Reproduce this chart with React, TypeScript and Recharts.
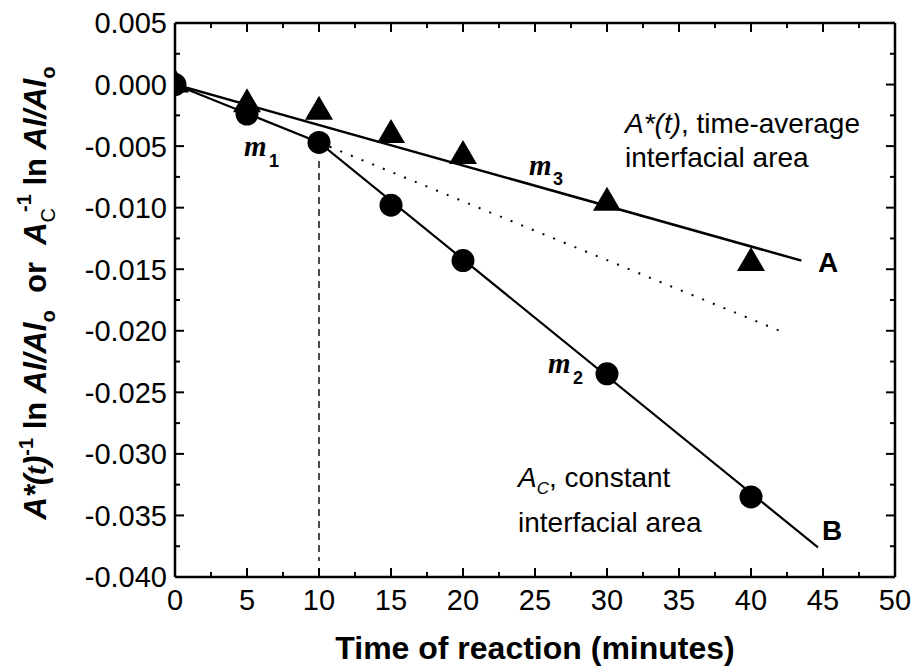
import { ComposedChart, Line, Scatter, XAxis, YAxis } from 'recharts';

// sampling times (minutes)
const times = [0, 5, 10, 15, 20, 30, 40];
// A: time-average interfacial area (triangles)
const avgAreaValues = [0, -0.0016, -0.0022, -0.0041, -0.0058, -0.0096, -0.0145];
// B: constant interfacial area (circles)
const constAreaValues = [0, -0.0024, -0.0047, -0.0098, -0.0143, -0.0235, -0.0335];

// fitted lines
const fitA = [
  { x: 0, y: 0 },
  { x: 43.5, y: -0.0143 },
];
const fitB = [
  { x: 0, y: 0 },
  { x: 10, y: -0.0047 },
  { x: 44.65, y: -0.0376 },
];
const m1Extension = [
  { x: 10, y: -0.0047 },
  { x: 42.2, y: -0.0201 },
];
const markerTen = [
  { x: 10, y: -0.0062 },
  { x: 10, y: -0.0387 },
];

const xTicks = [0, 2.5, 5, 7.5, 10, 12.5, 15, 17.5, 20, 22.5, 25, 27.5, 30, 32.5, 35, 37.5, 40, 42.5, 45, 47.5, 50];
const yTicks = [
  0.005, 0.0025, 0, -0.0025, -0.005, -0.0075, -0.01, -0.0125, -0.015, -0.0175, -0.02,
  -0.0225, -0.025, -0.0275, -0.03, -0.0325, -0.035, -0.0375, -0.04,
];

const triangles = times.map((t, i) => ({ x: t, y: avgAreaValues[i] }));
const circles = times.map((t, i) => ({ x: t, y: constAreaValues[i] }));

const FONT = '"Liberation Sans", Arial, Helvetica, sans-serif';
const SERIF = '"Liberation Serif", "Times New Roman", serif';

const isMajor = (v: number, step: number) => Math.abs(Math.round(v / step) * step - v) < 1e-9;

const BottomTick = (props: any) => {
  const { x, y, payload } = props;
  const major = isMajor(payload.value, 5);
  return (
    <g>
      <line x1={x} y1={y} x2={x} y2={y - (major ? 9 : 5)} stroke="#000" strokeWidth={2} />
      {major && (
        <text x={x} y={y + 33} textAnchor="middle" fontSize={29} fontFamily={FONT} fill="#000">
          {payload.value}
        </text>
      )}
    </g>
  );
};

const TopTick = (props: any) => {
  const { x, y, payload } = props;
  const major = isMajor(payload.value, 5);
  return <line x1={x} y1={y} x2={x} y2={y + (major ? 9 : 5)} stroke="#000" strokeWidth={2} />;
};

const LeftTick = (props: any) => {
  const { x, y, payload } = props;
  const major = isMajor(payload.value, 0.005);
  return (
    <g>
      <line x1={x} y1={y} x2={x + (major ? 9 : 5)} y2={y} stroke="#000" strokeWidth={2} />
      {major && (
        <text x={x - 8} y={y} dy="0.36em" textAnchor="end" fontSize={29} fontFamily={FONT} fill="#000">
          {payload.value.toFixed(3)}
        </text>
      )}
    </g>
  );
};

const RightTick = (props: any) => {
  const { x, y, payload } = props;
  const major = isMajor(payload.value, 0.005);
  return <line x1={x} y1={y} x2={x - (major ? 9 : 5)} y2={y} stroke="#000" strokeWidth={2} />;
};

const Triangle = (props: any) => {
  const { cx, cy } = props;
  const h = 24;
  const w = 28;
  return (
    <polygon
      points={`${cx},${cy - (2 * h) / 3} ${cx - w / 2},${cy + h / 3} ${cx + w / 2},${cy + h / 3}`}
      fill="#000"
    />
  );
};

const Dot = (props: any) => <circle cx={props.cx} cy={props.cy} r={11.5} fill="#000" />;

const axisLine = { stroke: '#000', strokeWidth: 2.5 };

export default function App() {
  return (
    <div style={{ position: 'absolute', left: 0, top: 0, width: 917, height: 667, background: '#fff' }}>
      <ComposedChart width={917} height={667} margin={{ top: 0, right: 0, bottom: 0, left: 0 }}>
        <XAxis
          dataKey="x"
          type="number"
          domain={[0, 50]}
          ticks={xTicks}
          interval={0}
          allowDataOverflow
          height={90}
          tickSize={0}
          tickMargin={0}
          tickLine={false}
          axisLine={axisLine}
          tick={<BottomTick />}
        />
        <XAxis
          xAxisId="top"
          orientation="top"
          dataKey="x"
          type="number"
          domain={[0, 50]}
          ticks={xTicks}
          interval={0}
          allowDataOverflow
          height={23}
          tickSize={0}
          tickMargin={0}
          tickLine={false}
          axisLine={axisLine}
          tick={<TopTick />}
        />
        <YAxis
          dataKey="y"
          type="number"
          domain={[-0.04, 0.005]}
          ticks={yTicks}
          interval={0}
          allowDataOverflow
          width={175}
          tickSize={0}
          tickMargin={0}
          tickLine={false}
          axisLine={axisLine}
          tick={<LeftTick />}
        />
        <YAxis
          yAxisId="right"
          orientation="right"
          dataKey="y"
          type="number"
          domain={[-0.04, 0.005]}
          ticks={yTicks}
          interval={0}
          allowDataOverflow
          width={22}
          tickSize={0}
          tickMargin={0}
          tickLine={false}
          axisLine={axisLine}
          tick={<RightTick />}
        />
        <Line data={markerTen} dataKey="y" type="linear" stroke="#000" strokeWidth={1.4} strokeDasharray="7 5" dot={false} isAnimationActive={false} />
        <Line data={m1Extension} dataKey="y" type="linear" stroke="#000" strokeWidth={2} strokeDasharray="2 9.5" dot={false} isAnimationActive={false} />
        <Line data={fitA} dataKey="y" type="linear" stroke="#000" strokeWidth={2.5} dot={false} isAnimationActive={false} />
        <Line data={fitB} dataKey="y" type="linear" stroke="#000" strokeWidth={2.2} dot={false} isAnimationActive={false} />
        <Scatter data={triangles} dataKey="y" shape={<Triangle />} isAnimationActive={false} />
        <Scatter data={circles} dataKey="y" shape={<Dot />} isAnimationActive={false} />
      </ComposedChart>
      <svg width={917} height={667} style={{ position: 'absolute', left: 0, top: 0, pointerEvents: 'none' }}>
        <g fontFamily={FONT} fill="#000">
          {/* axis titles */}
          <text x={535} y={659} textAnchor="middle" fontSize={32} fontWeight="bold">
            Time of reaction (minutes)
          </text>
          <text transform="rotate(-90)" x={-293} y={46} textAnchor="middle" fontSize={31} fontWeight="bold" xmlSpace="preserve">
            <tspan fontStyle="italic">A*(</tspan>
            <tspan fontStyle="italic" fontFamily={SERIF}>t</tspan>
            <tspan fontStyle="italic">)</tspan>
            <tspan fontSize={20} dy={-13}>-1</tspan>
            <tspan dy={13}> ln </tspan>
            <tspan fontStyle="italic">Al/Al</tspan>
            <tspan fontSize={20} dy={9}>o</tspan>
            <tspan dy={-9}>  or  </tspan>
            <tspan fontStyle="italic">A</tspan>
            <tspan fontSize={20} fontWeight="normal" dy={9}>C</tspan>
            <tspan fontSize={20} dx={-4} dy={-24}>-1</tspan>
            <tspan dy={15}> ln </tspan>
            <tspan fontStyle="italic">Al/Al</tspan>
            <tspan fontSize={20} dy={9}>o</tspan>
          </text>

          {/* curve annotations */}
          <text x={625} y={133} fontSize={28}>
            <tspan fontStyle="italic">A*(t)</tspan>, time-average
          </text>
          <text x={625} y={167} fontSize={28}>interfacial area</text>
          <text x={818} y={272} fontSize={28} fontWeight="bold">A</text>

          <text x={518} y={487} fontSize={28}>
            <tspan fontStyle="italic">A</tspan>
            <tspan fontStyle="italic" fontSize={17} dy={7}>C</tspan>
            <tspan dy={-7}>, constant</tspan>
          </text>
          <text x={518} y={532} fontSize={28}>interfacial area</text>
          <text x={822} y={540} fontSize={28} fontWeight="bold">B</text>

          <text x={244} y={156} fontSize={29} fontWeight="bold" fontStyle="italic" fontFamily={SERIF}>m</text>
          <text x={269} y={167} fontSize={18} fontWeight="bold">1</text>
          <text x={548} y={373} fontSize={29} fontWeight="bold" fontStyle="italic" fontFamily={SERIF}>m</text>
          <text x={573} y={384} fontSize={18} fontWeight="bold">2</text>
          <text x={529} y={175} fontSize={29} fontWeight="bold" fontStyle="italic" fontFamily={SERIF}>m</text>
          <text x={553} y={185} fontSize={18} fontWeight="bold">3</text>
        </g>
      </svg>
    </div>
  );
}
